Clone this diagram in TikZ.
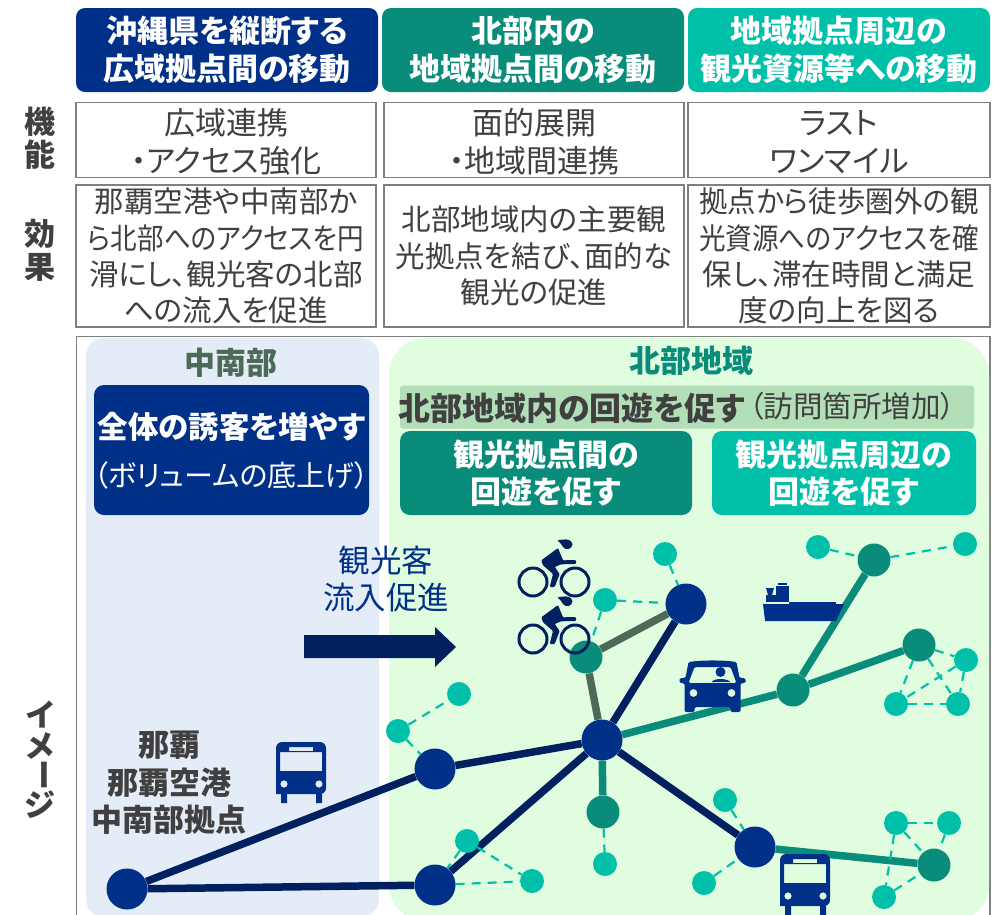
\documentclass[tikz,border=0pt]{standalone}
\usepackage{graphicx}
\usepackage{fontspec}
\setmainfont{Noto Sans CJK JP}[RawFeature=+palt]
\usetikzlibrary{arrows.meta}
\definecolor{navy}{HTML}{003087}
\definecolor{dnavy}{HTML}{002060}
\definecolor{teal2}{HTML}{0A8C7A}
\definecolor{mint}{HTML}{00C0AA}
\definecolor{moss}{HTML}{4D6A58}
\definecolor{txt}{HTML}{404040}
\definecolor{paleblue}{HTML}{E4ECF8}
\definecolor{palegreen}{HTML}{E0FDE0}
\definecolor{band}{HTML}{B2DFB8}
\newcommand{\fsz}[1]{\fontsize{#1}{#1}\selectfont}
\newcommand{\narrow}[2]{\scalebox{#1}[1]{#2}}
\pgfdeclarelayer{regions}
\pgfdeclarelayer{edges}
\pgfsetlayers{regions,edges,main}
\tikzset{
  x=1pt,y=-1pt,
  box/.style={inner sep=0pt,outer sep=0pt,align=center},
  head/.style={box,rounded corners=9pt,text=white,font=\bfseries\fontsize{31}{37.5}\selectfont,minimum height=84pt},
  cell/.style={box,draw=gray,line width=1.3pt,fill=white,text=txt,font=\fontsize{31}{38}\selectfont},
  celltext/.style={box,text=txt,font=\fontsize{31}{38}\selectfont},
  side/.style={box,text=txt,font=\bfseries\fontsize{31}{33}\selectfont},
  big/.style={circle,fill=navy,minimum size=41pt,inner sep=0pt},
  mid/.style={circle,fill=teal2,minimum size=33pt,inner sep=0pt},
  small/.style={circle,fill=mint,minimum size=24pt,inner sep=0pt},
  navyline/.style={draw=dnavy,line width=7.5pt},
  tealline/.style={draw=teal2,line width=7.5pt},
  mossline/.style={draw=moss,line width=7.5pt},
  link/.style={draw=mint,line width=2.2pt,dash pattern=on 9pt off 7pt},
  buspic/.pic={
    \fill[navy,even odd rule]
      (-25,-30) [rounded corners=6pt] -- (25,-30) -- (25,22) [sharp corners] -- (21,22) -- (21,31) -- (15,31) -- (15,22) -- (-14,22) -- (-14,31) -- (-20,31) -- (-20,22) -- (-25,22) [rounded corners=6pt] -- cycle
      (-21,-20) [sharp corners] rectangle (21,-1)
      (-12,-25) rectangle (12,-21)
      (-17,12) circle[radius=3.7]
      (18,12) circle[radius=3.7];
  },
  cyclist/.pic={
    \draw[dnavy,line width=3pt] (-21,0) circle[radius=14] (21,0) circle[radius=14];
    \fill[dnavy,rounded corners=1pt] (-12.7,-21.7) -- (4,-34) -- (9,-21.7) -- (22,-22) -- (22,-18) -- (7,-17.7) -- (0.7,-15) -- (5.7,-8) -- (0.7,5) -- (-4.3,5) -- (-1,-8) -- (-11,-16.7) -- cycle;
    \fill[dnavy] (3.5,-41.5) .. controls (8,-43) and (18,-44) .. (18.5,-38) .. controls (18.5,-33) and (12,-31) .. (9,-35) .. controls (8,-38) and (6,-39) .. (3.5,-41.5) -- cycle;
  },
}
\begin{document}
\begin{tikzpicture}
\useasboundingbox (0,0) rectangle (996,914);
\clip (0,0) rectangle (996,914);
\begin{pgfonlayer}{regions}
  \draw[gray,line width=1.3pt] (76.5,336.5) rectangle (990,930);
  \fill[paleblue,rounded corners=18pt] (86,338) rectangle (379,917);
  \fill[palegreen,rounded corners=36pt] (389,338) rectangle (989,921);
\end{pgfonlayer}
% header row
\node[head,fill=navy,minimum width=302pt] (h1) at (227,50) {沖縄県を縦断する\\広域拠点間の移動};
\node[head,fill=teal2,minimum width=302pt] (h2) at (533,50) {北部内の\\地域拠点間の移動};
\node[head,fill=mint,minimum width=302pt] (h3) at (839,50) {地域拠点周辺の\\観光資源等への移動};
% function row
\node[cell,minimum width=300pt,minimum height=75pt] (f1) at (226,140) {};
\node[cell,minimum width=300pt,minimum height=75pt] (f2) at (534,140) {};
\node[cell,minimum width=302pt,minimum height=75pt] (f3) at (839,140) {};
\node[celltext] (f1t) at (226,142) {広域連携\\・アクセス強化};
\node[celltext] (f2t) at (534,142) {面的展開\\・地域間連携};
\node[celltext] (f3t) at (839,142) {ラスト\\ワンマイル};
% effect row
\node[cell,font=\fontsize{29.5}{36.2}\selectfont,minimum width=300pt,minimum height=142pt] (e1) at (226,256) {那覇空港や中南部か\\\narrow{0.9}{ら北部へのアクセスを円}\\滑にし、観光客の北部\\への流入を促進};
\node[cell,font=\fontsize{29.5}{36.5}\selectfont,minimum width=300pt,minimum height=142pt] (e2) at (534,256) {北部地域内の主要観\\光拠点を結び、面的な\\観光の促進};
\node[cell,font=\fontsize{29.5}{36.2}\selectfont,minimum width=302pt,minimum height=142pt] (e3) at (839,256) {\narrow{0.965}{拠点から徒歩圏外の観}\\\narrow{0.9}{光資源へのアクセスを確}\\保し、滞在時間と満足\\度の向上を図る};
% side labels
\node[side] (s1) at (40,138) {機\\能};
\node[side] (s2) at (40,250) {効\\果};
\node[side] (s3a) at (40,714) {イ};
\node[side] (s3b) at (40,746) {メ};
\node[side,rotate=-90] (s3c) at (40,775) {ー};
\node[side] (s3d) at (40,805) {ジ};
% region titles
\node[box,text=moss,font=\bfseries\fsz{31}] (t1) at (231,363) {中南部};
\node[box,text=teal2,font=\bfseries\fsz{31}] (t2) at (691,361) {北部地域};
\node[box,fill=navy,rounded corners=10pt,minimum width=275pt,minimum height=130pt] (g1) at (231.5,450) {};
\node[box,text=white,font=\bfseries\fsz{30.5}] (g1a) at (231.5,427) {全体の誘客を増やす};
\node[box,text=white,font=\fsz{29}] (g1b) at (231.5,475) {（ボリュームの底上げ）};
\node[box,fill=band,rounded corners=3pt,minimum width=574pt,minimum height=43pt] (g2) at (687,407) {};
\node[box,text=txt,font=\bfseries\fsz{32},anchor=west] (g2a) at (398,408) {北部地域内の回遊を促す};
\node[box,text=txt,font=\fsz{29.5},anchor=west] (g2b) at (749,406) {（訪問箇所増加）};
\node[box,fill=teal2,rounded corners=10pt,minimum width=292pt,minimum height=84pt,text=white,font=\bfseries\fontsize{31}{37.5}\selectfont] (g3) at (546,473) {観光拠点間の\\回遊を促す};
\node[box,fill=mint,rounded corners=10pt,minimum width=264pt,minimum height=84pt,text=white,font=\bfseries\fontsize{31}{37.5}\selectfont] (g4) at (844,473) {観光拠点周辺の\\回遊を促す};
\node[box,text=navy,font=\fontsize{31.5}{37}\selectfont] (flow) at (386,579) {観光客\\流入促進};
\node[box,text=txt,font=\bfseries\fontsize{31}{37.5}\selectfont] (naha) at (169,783) {那覇\\那覇空港\\中南部拠点};
% inflow arrow
\fill[dnavy] (304,635) -- (435,635) -- (435,627) -- (456,647) -- (435,667) -- (435,658) -- (304,658) -- cycle;
% network nodes
\node[big] (hub) at (602,740) {};
\node[big] (b1) at (686,604) {};
\node[big] (b2) at (435,769) {};
\node[big] (b3) at (435,885) {};
\node[big] (b4) at (755,847) {};
\node[big] (b5) at (127,889) {};
\node[mid] (m1) at (586,657) {};
\node[mid] (m2) at (603,812) {};
\node[mid] (m3) at (793,690) {};
\node[mid] (m4) at (874,560) {};
\node[mid] (m5) at (919,645) {};
\node[mid] (m6) at (934,865) {};
\node[small] (a1) at (665,554) {};
\node[small] (a2) at (605,600) {};
\node[small] (a3) at (459,694) {};
\node[small] (a4) at (398,731) {};
\node[small] (a5) at (605,864) {};
\node[small] (a6) at (467,841) {};
\node[small] (a7) at (532,881) {};
\node[small] (a8) at (725,800) {};
\node[small] (a9) at (704,883) {};
\node[small] (a10) at (818,547) {};
\node[small] (a11) at (965,544) {};
\node[small] (a12) at (966,660) {};
\node[small] (a13) at (896,704) {};
\node[small] (a14) at (958,704) {};
\node[small] (a15) at (896,823) {};
\node[small] (a16) at (949,823) {};
\node[small] (a17) at (884,897) {};
\begin{pgfonlayer}{edges}
  \draw[navyline] (b5) -- (b2);
  \draw[navyline] (b2) -- (hub);
  \draw[navyline] (b5) -- (b3);
  \draw[navyline] (b3) -- (hub);
  \draw[navyline] (hub) -- (b4);
  \draw[navyline] (hub) -- (b1);
  \draw[mossline] (m1) -- (hub);
  \draw[mossline] (m1) -- (b1);
  \draw[tealline] (hub) -- (m3);
  \draw[tealline] (m3) -- (m4);
  \draw[tealline] (m3) -- (m5);
  \draw[tealline] (hub) -- (m2);
  \draw[tealline] (b4) -- (m6);
  \draw[link] (a4) -- (a3);
  \draw[link] (a4) -- (b2);
  \draw[link] (a6) -- (b3);
  \draw[link] (a6) -- (a7);
  \draw[link] (b3) -- (a7);
  \draw[link] (a1) -- (b1);
  \draw[link] (a2) -- (b1);
  \draw[link] (a2) -- (m1);
  \draw[link] (m2) -- (a5);
  \draw[link] (a8) -- (b4);
  \draw[link] (a9) -- (b4);
  \draw[link] (a10) -- (m4);
  \draw[link] (m4) -- (a11);
  \draw[link] (m5) -- (a12);
  \draw[link] (m5) -- (a13);
  \draw[link] (m5) -- (a14);
  \draw[link] (a12) -- (a13);
  \draw[link] (a12) -- (a14);
  \draw[link] (a13) -- (a14);
  \draw[link] (a15) -- (a16);
  \draw[link] (a15) -- (m6);
  \draw[link] (a16) -- (m6);
  \draw[link] (a15) -- (a17);
  \draw[link] (a17) -- (m6);
\end{pgfonlayer}
% icons
\pic at (301,772) {buspic};
\pic at (805,884) {buspic};
\pic at (554,582) {cyclist};
\pic at (554,639) {cyclist};
% car
\begin{scope}[shift={(712.5,687)}]
  \fill[navy,even odd rule,rounded corners=1.5pt]
    (-24,-25) .. controls (-10,-27) and (10,-27) .. (24,-25) -- (27,-9) -- (33,-9) -- (33,-4) -- (28,-4) -- (28,25) -- (18,25) -- (18,20) -- (-18,20) -- (-18,25) -- (-28,25) -- (-28,-4) -- (-33,-4) -- (-33,-9) -- (-27,-9) -- cycle
    (-24,-4) -- (-18,-20) -- (18,-20) -- (24,-4) -- cycle
    (-19,6) circle[radius=4]
    (19,6) circle[radius=4];
  \fill[navy] (8,-15) circle[radius=5];
  \fill[navy] (-1,-5) .. controls (2,-9) and (14,-9) .. (18,-5) -- cycle;
\end{scope}
% ship
\fill[navy] (763,604) -- (844,604) -- (836,621) -- (765,621) -- cycle;
\fill[navy] (766,595) rectangle (789,602);
\fill[navy] (776,586) rectangle (789,602);
\fill[navy] (778,583) rectangle (787,585);
\fill[navy] (766,588) -- (774,588) -- (772,595) -- (768,595) -- cycle;
\fill[navy] (789,602) arc[start angle=180,end angle=0,radius=9];
\fill[navy] (806,602) arc[start angle=180,end angle=0,radius=8];
\fill[navy] (820,602) arc[start angle=180,end angle=0,radius=8];
\end{tikzpicture}
\end{document}
